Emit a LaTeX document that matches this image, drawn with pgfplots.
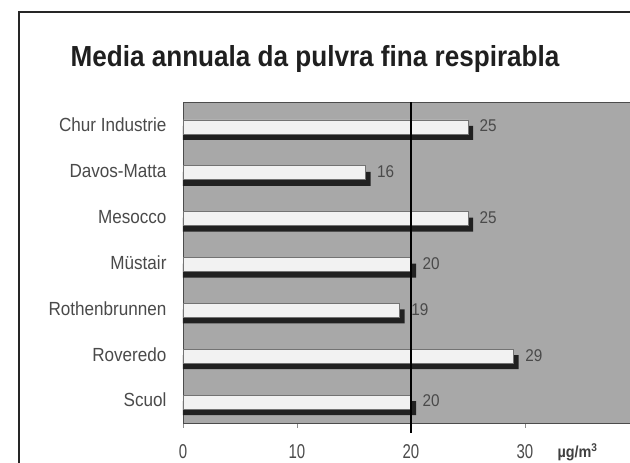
\documentclass[border=0pt]{standalone}
\usepackage{fontspec}
\setmainfont{Liberation Sans}
\newfontfamily\narrow[FakeStretch=0.9]{Liberation Sans}
\newfontfamily\cond[FakeStretch=0.75]{Liberation Sans}
\usepackage{pgfplots}
\pgfplotsset{compat=1.18}
\definecolor{bggray}{HTML}{A8A8A8}
\definecolor{barfill}{HTML}{F2F2F2}
\definecolor{txtgray}{HTML}{4A4A4A}
\begin{document}
\begin{tikzpicture}
\useasboundingbox (0pt,0pt) rectangle (630pt,463pt);
\clip (0pt,0pt) rectangle (630pt,463pt);
\fill[white] (0pt,0pt) rectangle (630pt,463pt);
\draw[line width=1.4pt, black!85] (19pt,-5pt) -- (19pt,451pt) -- (640pt,451pt);
\node[font=\narrow\bfseries\fontsize{29}{31}\selectfont, text=black!88] at (315pt,404pt) {Media annuala da pulvra fina respirabla};
\begin{axis}[
  at={(183pt,40pt)}, anchor=south west,
  scale only axis, width=456pt, height=321pt,
  xmin=0, xmax=40, ymin=-0.5, ymax=6.5,
  clip=false,
  axis background/.style={fill=bggray},
  axis line style={black!70, line width=0.8pt},
  xtick={0,10,20,30,40},
  xtick pos=bottom, xtick align=outside,
  major tick length=5pt,
  x tick style={black!45, line width=0.8pt},
  ytick={0,...,6},
  yticklabels={Scuol,Roveredo,Rothenbrunnen,Müstair,Mesocco,Davos-Matta,Chur Industrie},
  ytick style={draw=none},
  /pgf/number format/assume math mode=true,
  xticklabel style={font=\cond\fontsize{20}{22}\selectfont, text=txtgray, yshift=-13pt},
  yticklabel style={font=\narrow\fontsize{19}{21}\selectfont, text=txtgray, xshift=-13pt},
  nodes near coords style={font=\narrow\fontsize{17}{19}\selectfont, text=txtgray},
]
\addplot[xbar, bar width=14pt, bar shift=-8pt, fill=black!87, draw=none]
 coordinates {(20.45,0) (29.45,1) (19.45,2) (20.45,3) (25.45,4) (16.45,5) (25.45,6)};
\addplot[xbar, bar width=14pt, bar shift=-2pt, fill=barfill, draw=black!55, line width=0.8pt,
  nodes near coords, every node near coord/.append style={anchor=west, xshift=8pt, yshift=-1pt}]
 coordinates {(20,0) (29,1) (19,2) (20,3) (25,4) (16,5) (25,6)};
\draw[black, line width=1.5pt] (axis cs:20,6.5) -- ([yshift=-10pt]axis cs:20,-0.5);
\end{axis}
\node[font=\narrow\bfseries\fontsize{16}{18}\selectfont, text=black!75, anchor=west] at (554pt,11pt) {µg/m\textsuperscript{3}};
\end{tikzpicture}
\end{document}
